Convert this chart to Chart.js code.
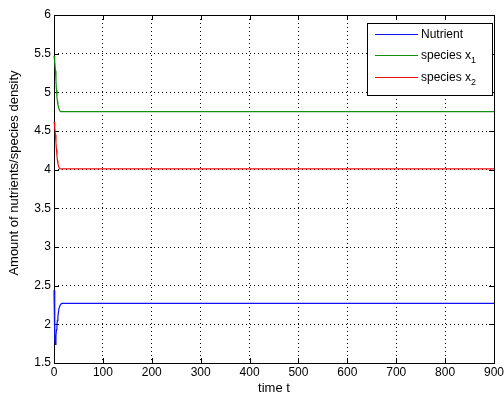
<!DOCTYPE html>
<html>
<head>
<meta charset="utf-8">
<script src="https://cdn.jsdelivr.net/npm/chart.js@4.4.1/dist/chart.umd.min.js"></script>
<style>
html, body { margin: 0; padding: 0; background: #fff; }
#wrap { width: 504px; height: 398px; }
</style>
</head>
<body>
<div id="wrap"><canvas id="myChart"></canvas></div>
<script>
// values
let timeT = [0, 1, 2, 3, 4, 5, 6, 7, 8, 10, 12, 14, 16, 20, 900];
let nutrient = [2.44, 2.10, 1.80, 1.74, 1.85, 1.93, 2.00, 2.05, 2.10, 2.20, 2.24, 2.26, 2.27, 2.27, 2.27];
let speciesX1 = [5.47, 5.45, 5.40, 5.28, 5.15, 5.03, 4.94, 4.88, 4.84, 4.79, 4.76, 4.75, 4.75, 4.75, 4.75];
let speciesX2 = [4.62, 4.60, 4.55, 4.45, 4.35, 4.26, 4.18, 4.12, 4.08, 4.03, 4.01, 4.01, 4.01, 4.01, 4.01];
let seriesNames = ['Nutrient', 'species x₁', 'species x₂'];
let seriesColors = ['#1010f0', '#129012', '#f01010'];
let yTitle = 'Amount of nutrients/species density';

let fontFam = '"Liberation Sans", Arial, sans-serif';
let subDigits = { '₁': '1', '₂': '2' };

function pts(arr) {
    return timeT.map((t, i) => ({ x: t, y: arr[i] }));
}

// box + inward ticks (under the lines), legend and y title on top
let matlabBox = {
    id: 'matlabBox',
    beforeDatasetsDraw(chart) {
        let c = chart.ctx;
        let a = chart.chartArea;
        let xs = chart.scales.x, ys = chart.scales.y;
        c.save();
        c.strokeStyle = '#000';
        c.lineWidth = 1;
        c.strokeRect(Math.round(a.left) + 0.5, Math.round(a.top) + 0.5,
            Math.round(a.right - a.left), Math.round(a.bottom - a.top));
        c.beginPath();
        xs.ticks.forEach(t => {
            let px = Math.round(xs.getPixelForValue(t.value)) + 0.5;
            c.moveTo(px, a.bottom); c.lineTo(px, a.bottom - 5);
            c.moveTo(px, a.top); c.lineTo(px, a.top + 5);
        });
        ys.ticks.forEach(t => {
            let py = Math.round(ys.getPixelForValue(t.value)) + 0.5;
            c.moveTo(a.left, py); c.lineTo(a.left + 5, py);
            c.moveTo(a.right, py); c.lineTo(a.right - 5, py);
        });
        c.stroke();
        c.restore();
    },
    afterDraw(chart) {
        let c = chart.ctx;
        let a = chart.chartArea;
        c.save();
        // y title, sits a bit above the axes centre in the original
        c.save();
        c.translate(14, 173);
        c.rotate(-Math.PI / 2);
        c.font = '13px ' + fontFam;
        c.fillStyle = '#000';
        c.textAlign = 'center';
        c.textBaseline = 'middle';
        c.fillText(yTitle, 0, 0);
        c.restore();

        let lx = Math.round(a.right - 127), ly = Math.round(a.top + 8), lw = 125, lh = 72;
        c.fillStyle = '#fff';
        c.fillRect(lx, ly, lw, lh);
        c.strokeStyle = '#000';
        c.lineWidth = 1;
        c.strokeRect(lx + 0.5, ly + 0.5, lw, lh);
        c.textBaseline = 'alphabetic';
        let rowY = [ly + 11, ly + 32, ly + 54];
        seriesNames.forEach((name, i) => {
            c.strokeStyle = seriesColors[i];
            c.lineWidth = 1;
            c.beginPath();
            c.moveTo(lx + 8, Math.round(rowY[i]) + 0.5);
            c.lineTo(lx + 51, Math.round(rowY[i]) + 0.5);
            c.stroke();
            c.fillStyle = '#000';
            let x = lx + 54;
            let base = rowY[i] + 4;
            for (let ch of name) {
                if (subDigits[ch]) {
                    c.font = '9px ' + fontFam;
                    c.fillText(subDigits[ch], x, base + 4);
                    x += c.measureText(subDigits[ch]).width;
                } else {
                    c.font = '12px ' + fontFam;
                    c.fillText(ch, x, base);
                    x += c.measureText(ch).width;
                }
            }
        });
        c.restore();
    }
};

let ctx = document.querySelector('#myChart').getContext('2d');

let graphData = {
    type: 'line',
    data: {
        datasets: seriesNames.map((name, i) => ({
            label: name,
            data: pts([nutrient, speciesX1, speciesX2][i]),
            borderColor: seriesColors[i],
            borderWidth: 1.2,
            pointRadius: 0,
            fill: false,
            tension: 0,
            clip: 3
        }))
    },
    options: {
        responsive: true,
        maintainAspectRatio: false,
        animation: false,
        layout: { padding: { top: 15, right: 0, left: 0, bottom: 0 } },
        plugins: { legend: { display: false }, tooltip: { enabled: false } },
        scales: {
            x: {
                type: 'linear',
                min: 0, max: 900,
                ticks: { stepSize: 100, color: '#000', font: { family: fontFam, size: 12 }, padding: 2, maxRotation: 0 },
                grid: { color: '#000', lineWidth: 1, drawTicks: false },
                border: { display: false, dash: [1, 3] },
                title: { display: true, text: 'time t', color: '#000', font: { family: fontFam, size: 13 }, padding: { top: 0, bottom: 2 } },
                afterFit(s) { s.height = 35; s.paddingRight = 10; }
            },
            y: {
                min: 1.5, max: 6,
                ticks: {
                    stepSize: 0.5, color: '#000', font: { family: fontFam, size: 12 }, padding: 3,
                    callback: v => String(Math.round(v * 10) / 10)
                },
                grid: { color: '#000', lineWidth: 1, drawTicks: false },
                border: { display: false, dash: [1, 3] },
                afterFit(s) { s.width = 54; }
            }
        }
    },
    plugins: [matlabBox]
};

let myChart = new Chart(ctx, graphData);
</script>
</body>
</html>
